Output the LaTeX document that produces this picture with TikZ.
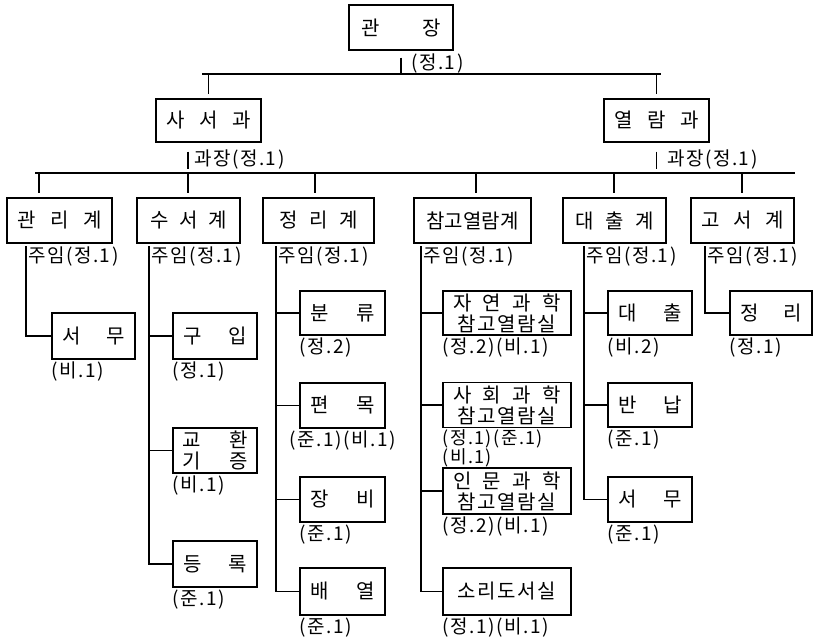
\documentclass[tikz,border=0pt]{standalone}
\usepackage{fontspec}
\setmainfont{Noto Sans CJK KR}
\newfontfamily\krwide[LetterSpace=8]{Noto Sans CJK KR}
\newcommand{\sprd}[2]{\makebox[#1][s]{#2}}
\tikzset{
  unit/.style={draw, line width=1.2pt, inner sep=0pt, align=center, font=\fontsize{20}{21}\selectfont},
  staff/.style={inner sep=0pt, align=left, font=\krwide\fontsize{19}{17.5}\selectfont},
  link/.style={line width=1.2pt},
}
\begin{document}
\begin{tikzpicture}[x=1pt, y=-1pt]
\useasboundingbox (0,0) rectangle (814,640);

% head and the two divisions
\node[unit, minimum width=104pt, minimum height=45pt] (chief) at (401,27.5) {\sprd{80pt}{관 장}};
\node[staff, anchor=west] (chiefq) at (411,64) {(정.1)};
\node[unit, minimum width=105pt, minimum height=43pt] (libdiv) at (208.5,120.5) {\sprd{84pt}{사 서 과}};
\node[unit, minimum width=105pt, minimum height=43pt] (readdiv) at (656.5,120.5) {\sprd{84pt}{열 람 과}};
\node[staff, anchor=west] (libdivq) at (194,160) {과장(정.1)};
\node[staff, anchor=west] (readdivq) at (667,160) {과장(정.1)};

% sections
\node[unit, minimum width=105pt, minimum height=45pt] (admin) at (59.5,220.5) {\sprd{84pt}{관 리 계}};
\node[unit, minimum width=103pt, minimum height=45pt] (acq) at (188.5,220.5) {\sprd{76pt}{수 서 계}};
\node[unit, minimum width=111pt, minimum height=45pt] (cat) at (318.5,220.5) {\sprd{78pt}{정 리 계}};
\node[unit, minimum width=117pt, minimum height=45pt] (ref) at (472.5,220.5) {참고열람계};
\node[unit, minimum width=103pt, minimum height=45pt] (loan) at (614.5,220.5) {\sprd{78pt}{대 출 계}};
\node[unit, minimum width=103pt, minimum height=45pt] (rare) at (742.5,220.5) {\sprd{82pt}{고 서 계}};

\node[staff, anchor=west] (adminlead) at (28,257) {주임(정.1)};
\node[staff, anchor=west] (acqlead) at (151,257) {주임(정.1)};
\node[staff, anchor=west] (catlead) at (278,257) {주임(정.1)};
\node[staff, anchor=west] (reflead) at (423,257) {주임(정.1)};
\node[staff, anchor=west] (loanlead) at (586,257) {주임(정.1)};
\node[staff, anchor=west] (rarelead) at (707,257) {주임(정.1)};

% units
\node[unit, minimum width=83pt, minimum height=46pt] (office) at (93.5,336) {\sprd{62pt}{서 무}};
\node[unit, minimum width=84pt, minimum height=46pt] (buy) at (215,336) {\sprd{64pt}{구 입}};
\node[unit, minimum width=84pt, minimum height=45pt] (exch) at (215,450.5) {\sprd{66pt}{교 환}\\\sprd{66pt}{기 증}};
\node[unit, minimum width=84pt, minimum height=46pt] (reg) at (215,564) {\sprd{64pt}{등 록}};
\node[unit, minimum width=85pt, minimum height=44pt] (sort) at (342.5,313) {\sprd{64pt}{분 류}};
\node[unit, minimum width=85pt, minimum height=45pt] (index) at (342.5,405.5) {\sprd{64pt}{편 목}};
\node[unit, minimum width=85pt, minimum height=45pt] (bind) at (342.5,499.5) {\sprd{64pt}{장 비}};
\node[unit, minimum width=85pt, minimum height=47pt] (shelf) at (342.5,591.5) {\sprd{64pt}{배 열}};
\node[unit, minimum width=128pt, minimum height=44pt] (natroom) at (507,313) {\sprd{108pt}{자 연 과 학}\\{\krwide 참고열람실}};
\node[unit, minimum width=128pt, minimum height=45pt] (socroom) at (507,405) {\sprd{108pt}{사 회 과 학}\\{\krwide 참고열람실}};
\node[unit, minimum width=128pt, minimum height=46pt] (humroom) at (507,491) {\sprd{108pt}{인 문 과 학}\\{\krwide 참고열람실}};
\node[unit, minimum width=128pt, minimum height=47pt] (audio) at (507,591.5) {\krwide 소리도서실};
\node[unit, minimum width=84pt, minimum height=44pt] (lend) at (650,313) {\sprd{64pt}{대 출}};
\node[unit, minimum width=84pt, minimum height=44pt] (back) at (650,405) {\sprd{64pt}{반 납}};
\node[unit, minimum width=84pt, minimum height=45pt] (desk) at (650,499.5) {\sprd{64pt}{서 무}};
\node[unit, minimum width=82pt, minimum height=44pt] (rarework) at (771,313) {\sprd{62pt}{정 리}};

% staff counts
\node[staff, anchor=north west] (officeq) at ([yshift=-2pt]office.south west) {(비.1)};
\node[staff, anchor=north west] (buyq) at ([yshift=-2pt]buy.south west) {(정.1)};
\node[staff, anchor=north west] (exchq) at ([yshift=-2pt]exch.south west) {(비.1)};
\node[staff, anchor=north west] (regq) at ([yshift=-2pt]reg.south west) {(준.1)};
\node[staff, anchor=north west] (sortq) at ([yshift=-2pt]sort.south west) {(정.2)};
\node[staff, anchor=north] (indexq) at ([yshift=-2pt]index.south) {(준.1)(비.1)};
\node[staff, anchor=north west] (bindq) at ([yshift=-2pt]bind.south west) {(준.1)};
\node[staff, anchor=north west] (shelfq) at ([yshift=-2pt]shelf.south west) {(준.1)};
\node[staff, anchor=north west] (natroomq) at ([yshift=-2pt]natroom.south west) {(정.2)(비.1)};
\node[staff, anchor=north west, font=\krwide\fontsize{18}{15.5}\selectfont] (socroomq) at ([yshift=-1pt]socroom.south west) {(정.1)(준.1)\\(비.1)};
\node[staff, anchor=north west] (humroomq) at ([yshift=-2pt]humroom.south west) {(정.2)(비.1)};
\node[staff, anchor=north west] (audioq) at ([yshift=-2pt]audio.south west) {(정.1)(비.1)};
\node[staff, anchor=north west] (lendq) at ([yshift=-2pt]lend.south west) {(비.2)};
\node[staff, anchor=north west] (backq) at ([yshift=-2pt]back.south west) {(준.1)};
\node[staff, anchor=north west] (deskq) at ([yshift=-2pt]desk.south west) {(준.1)};
\node[staff, anchor=north west] (rareworkq) at ([yshift=-2pt]rarework.south west) {(정.1)};

% bus lines and trunks
\coordinate (bus1w) at (202,74); \coordinate (bus1e) at (661,74);
\coordinate (bus2w) at (35,173); \coordinate (bus2e) at (795,173);
\coordinate (t1) at (39,173); \coordinate (t2) at (188,173); \coordinate (t3) at (315,173);
\coordinate (t4) at (476,173); \coordinate (t5) at (614,173); \coordinate (t6) at (742,173);
\coordinate (adminT) at (26,246); \coordinate (acqT) at (149,246); \coordinate (catT) at (276,246);
\coordinate (refT) at (421,246); \coordinate (loanT) at (584,246); \coordinate (rareT) at (705,246);

\draw[link] (bus1w) -- (bus1e); \draw[link, shorten <=7pt] (chief) -- (chief.south |- bus1w);
\draw[link, shorten >=4pt] (libdiv.north |- bus1w) -- (libdiv); \draw[link, shorten >=4pt] (readdiv.north |- bus1w) -- (readdiv);
\draw[link] (bus2w) -- (bus2e);
\draw[link, shorten <=9pt, shorten >=4pt] (t2 |- libdiv.south) -- (t2); \draw[link, shorten <=9pt, shorten >=4pt] (readdiv) -- (readdiv.south |- bus2w);
\draw[link, shorten >=4pt] (t1) -- (t1 |- admin.north); \draw[link, shorten >=4pt] (t2) -- (t2 |- acq.north); \draw[link, shorten >=4pt] (t3) -- (t3 |- cat.north);
\draw[link, shorten >=4pt] (t4) -- (t4 |- ref.north); \draw[link, shorten >=4pt] (t5) -- (t5 |- loan.north); \draw[link, shorten >=4pt] (t6) -- (t6 |- rare.north);
\draw[link] (adminT) |- (office);
\draw[link] (acqT) |- (buy); \draw[link] (acqT) |- (exch); \draw[link] (acqT) |- (reg);
\draw[link] (catT) |- (sort); \draw[link] (catT) |- (index); \draw[link] (catT) |- (bind); \draw[link] (catT) |- (shelf);
\draw[link] (refT) |- (natroom); \draw[link] (refT) |- (socroom); \draw[link] (refT) |- (humroom); \draw[link] (refT) |- (audio);
\draw[link] (loanT) |- (lend); \draw[link] (loanT) |- (back); \draw[link] (loanT) |- (desk);
\draw[link] (rareT) |- (rarework);
\end{tikzpicture}
\end{document}
